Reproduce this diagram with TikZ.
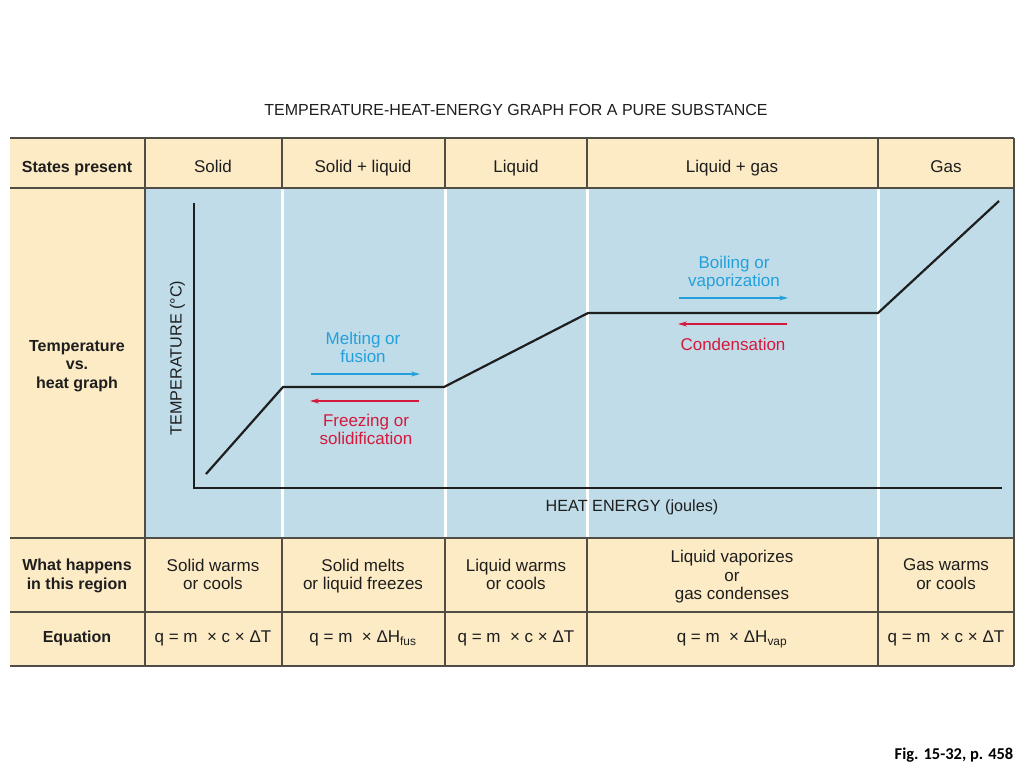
\documentclass[tikz,border=0pt]{standalone}
\usepackage{fontspec}
\setmainfont{Liberation Sans}
\newfontfamily\figfont{Carlito}
\usetikzlibrary{arrows.meta}
\definecolor{cream}{RGB}{252,235,197}
\definecolor{paleblue}{RGB}{191,220,232}
\definecolor{gridline}{RGB}{80,76,70}
\definecolor{textblue}{RGB}{35,160,220}
\definecolor{textred}{RGB}{212,25,60}
\definecolor{ink}{RGB}{30,30,30}
\begin{document}
\begin{tikzpicture}[x=1pt,y=-1pt,
  strutted/.style={execute at begin node=\strut, execute at end node=\strut},
  cell/.style={font=\fontsize{17}{18.5}\selectfont, text=ink, align=center, inner sep=0pt, strutted},
  hdr/.style={cell, font=\fontsize{16}{18.5}\selectfont\bfseries},
  axislabel/.style={font=\fontsize{16.2}{18}\selectfont, text=ink, inner sep=0pt, strutted},
  bluelabel/.style={font=\fontsize{17}{17.5}\selectfont, text=textblue, align=center, inner sep=0pt, strutted},
  redlabel/.style={font=\fontsize{17}{17.5}\selectfont, text=textred, align=center, inner sep=0pt, strutted},
  blueflow/.style={draw=textblue, line width=1.2pt, -{Stealth[length=9pt,width=5pt]}},
  redflow/.style={draw=textred, line width=1.2pt, -{Stealth[length=9pt,width=5pt]}},
  rule/.style={draw=gridline, line width=1.1pt},
  whiterule/.style={draw=white, line width=3pt},
  curve/.style={draw=ink, line width=2.2pt, line join=miter},
  axis/.style={draw=ink, line width=1.2pt}
]
\useasboundingbox (0,0) rectangle (1024,768);
% backgrounds
\fill[cream] (10,138) rectangle (1014,666);
\fill[paleblue] (145,188) rectangle (1014,538);
% white separators in graph region
\foreach \xx in {282,445,587,878} \draw[whiterule] (\xx,188) -- (\xx,538);
% table rules
\foreach \yy in {138,188,538,612,666} \draw[rule] (10,\yy) -- (1014,\yy);
\draw[rule] (145,138) -- (145,666);
\draw[rule] (1014,138) -- (1014,666);
\foreach \xx in {282,445,587,878} {
  \draw[rule] (\xx,138) -- (\xx,188);
  \draw[rule] (\xx,538) -- (\xx,666);
}
% title
\node[font=\fontsize{16}{18}\selectfont, text=ink, inner sep=0pt, strutted] (title) at (516,112) {TEMPERATURE-HEAT-ENERGY GRAPH FOR A PURE SUBSTANCE};
% header row
\node[hdr] (hStates) at (77,169) {States present};
\node[cell] (hSolid) at (213,169) {Solid};
\node[cell] (hSL) at (363,169) {Solid + liquid};
\node[cell] (hLiq) at (516,169) {Liquid};
\node[cell] (hLG) at (732,169) {Liquid + gas};
\node[cell] (hGas) at (946,169) {Gas};
% graph row label
\node[hdr] (gLabel) at (77,367) {Temperature\\vs.\\heat graph};
% what happens row
\node[hdr] (wLabel) at (77,577) {What happens\\in this region};
\node[cell] (w1) at (213,577) {Solid warms\\or cools};
\node[cell] (w2) at (363,577) {Solid melts\\or liquid freezes};
\node[cell] (w3) at (516,577) {Liquid warms\\or cools};
\node[cell] (w4) at (732,578) {Liquid vaporizes\\or\\gas condenses};
\node[cell] (w5) at (946,577) {Gas warms\\or cools};
% equation row
\node[hdr] (eLabel) at (77,639) {Equation};
\node[cell] (e1) at (213,639) {q = m\ \ × c × ΔT};
\node[cell] (e2) at (363,639) {q = m\ \ × ΔH\textsubscript{fus}};
\node[cell] (e3) at (516,639) {q = m\ \ × c × ΔT};
\node[cell] (e4) at (732,639) {q = m\ \ × ΔH\textsubscript{vap}};
\node[cell] (e5) at (946,639) {q = m\ \ × c × ΔT};
% axes
\coordinate (ytop) at (194,203);
\coordinate (origin) at (194,488);
\coordinate (xend) at (1002,488);
\draw[axis] (ytop) -- (origin) -- (xend);
\node[axislabel, rotate=90] (ylab) at (178,358) {TEMPERATURE (°C)};
\node[axislabel] (xlab) at (632,508) {HEAT ENERGY (joules)};
% heating curve
\coordinate (p0) at (206,474);
\coordinate (p1) at (283,387);
\coordinate (p2) at (444,387);
\coordinate (p3) at (588,313);
\coordinate (p4) at (878,313);
\coordinate (p5) at (999,201);
\draw[curve] (p0) -- (p1) -- (p2) -- (p3) -- (p4) -- (p5);
% melting / freezing
\node[bluelabel] (melt) at (363,350) {Melting or\\fusion};
\coordinate (mA) at (311,374);
\coordinate (mB) at (420,374);
\draw[blueflow] (mA) -- (mB);
\coordinate (fA) at (419,401);
\coordinate (fB) at (310,401);
\draw[redflow] (fA) -- (fB);
\node[redlabel] (freeze) at (366,432) {Freezing or\\solidification};
% boiling / condensation
\node[bluelabel] (boil) at (734,274) {Boiling or\\vaporization};
\coordinate (bA) at (679,298);
\coordinate (bB) at (788,298);
\draw[blueflow] (bA) -- (bB);
\coordinate (cA) at (787,324);
\coordinate (cB) at (678,324);
\draw[redflow] (cA) -- (cB);
\node[redlabel] (cond) at (733,347) {Condensation};
% figure reference
\node[font=\figfont\fontsize{16.5}{18}\selectfont\bfseries, text=black, inner sep=0pt, strutted] (fig) at (954,756) {Fig. 15-32, p. 458};
\end{tikzpicture}
\end{document}
